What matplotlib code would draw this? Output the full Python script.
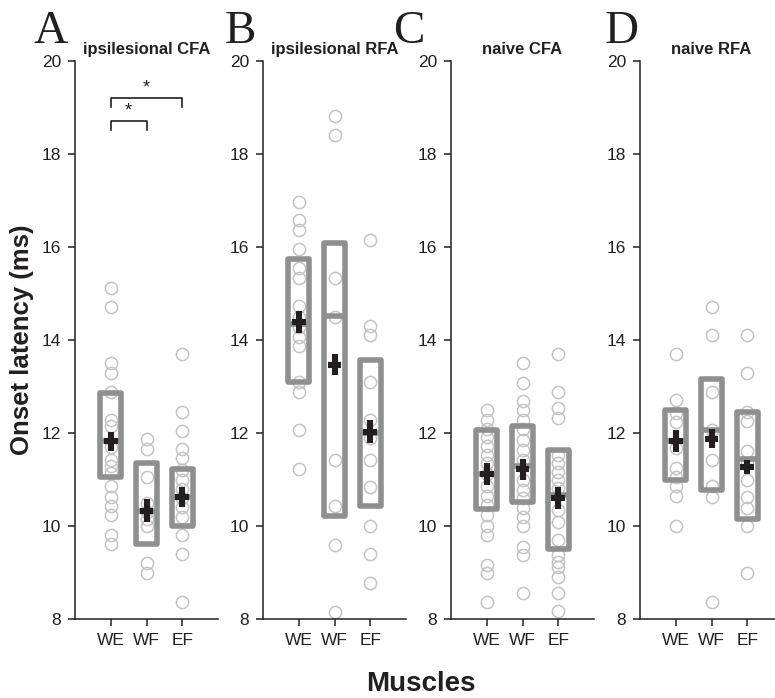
import matplotlib
matplotlib.use("Agg")
import matplotlib.pyplot as plt
from matplotlib.patches import Rectangle

plt.rcParams["font.family"] = ["Liberation Sans", "DejaVu Sans"]

muscles = ["WE", "WF", "EF"]
areas = ["ipsilesional CFA", "ipsilesional RFA", "naive CFA", "naive RFA"]
letters = ["A", "B", "C", "D"]

# onset latencies (ms), one list per area, one sub-list per muscle
cfa_ipsi = [
    [15.12, 14.72, 13.50, 13.30, 12.89, 12.28, 12.14, 11.70, 11.42, 11.28,
     11.13, 10.85, 10.63, 10.42, 10.24, 9.81, 9.61],
    [11.87, 11.66, 11.05, 10.50, 10.30, 10.15, 9.99, 9.20, 8.98],
    [13.69, 12.46, 12.05, 11.65, 11.46, 11.20, 11.00, 10.80, 10.60, 10.40,
     10.20, 9.81, 9.39, 8.37],
]
rfa_ipsi = [
    [16.97, 16.57, 16.37, 15.95, 15.54, 15.34, 14.73, 14.50, 14.29, 14.07,
     13.88, 13.10, 12.88, 12.06, 11.23],
    [18.82, 18.41, 15.34, 14.50, 11.43, 10.42, 9.59, 8.16],
    [16.15, 14.31, 14.11, 13.09, 12.28, 11.89, 11.43, 10.83, 10.01, 9.40, 8.77],
]
cfa_naive = [
    [12.49, 12.29, 12.09, 11.92, 11.71, 11.53, 11.35, 11.12, 10.85, 10.64,
     10.46, 10.24, 9.99, 9.81, 9.16, 8.98, 8.37],
    [13.50, 13.08, 12.69, 12.49, 12.29, 12.09, 11.84, 11.63, 11.42, 10.99,
     10.78, 10.60, 10.38, 10.20, 9.99, 9.55, 9.37, 8.55],
    [13.70, 12.89, 12.53, 12.32, 11.53, 11.35, 11.17, 10.99, 10.81, 10.34,
     10.09, 9.70, 9.38, 9.23, 9.12, 8.91, 8.55, 8.18],
]
rfa_naive = [
    [13.70, 12.71, 12.42, 12.24, 11.67, 11.24, 11.06, 10.85, 10.64, 9.99],
    [14.72, 14.11, 12.89, 12.06, 11.43, 10.85, 10.63, 8.37],
    [14.11, 13.30, 12.45, 12.25, 11.62, 11.35, 11.00, 10.62, 10.38, 10.01, 9.00],
]
latencies = [cfa_ipsi, rfa_ipsi, cfa_naive, rfa_naive]

# box bounds, median line, mean and sem per area x muscle
box_hi = [[12.87, 11.35, 11.23], [15.74, 16.08, 13.58],
          [12.06, 12.16, 11.63], [12.50, 13.17, 12.45]]
box_lo = [[11.06, 9.61, 10.00], [13.09, 10.22, 10.44],
          [10.37, 10.52, 9.50], [10.98, 10.77, 10.15]]
medians = [[11.82, 10.33, 10.62], [14.34, 14.52, 11.99],
           [11.12, 11.28, 10.67], [11.83, 12.06, 11.45]]
means = [[11.82, 10.33, 10.62], [14.38, 13.47, 12.03],
         [11.12, 11.22, 10.60], [11.83, 11.88, 11.27]]
sems = [[0.21, 0.24, 0.22], [0.24, 0.22, 0.24],
        [0.23, 0.23, 0.23], [0.23, 0.20, 0.16]]

# significant pairs in panel A: (left muscle, right muscle, bracket height)
sig_pairs = [(1, 3, 19.21), (1, 2, 18.72)]

ink = "#231f20"
box_gray = "#8e8f91"
dot_gray = "#c4c4c4"

W, H = 775, 698
fig = plt.figure(figsize=(W / 100, H / 100), dpi=100)

spine_x = [75, 263, 451, 640]
letter_x = [33, 225, 393, 605]
ax_w = 143
ax_top, ax_bot = 61, 619

xs = [1, 2, 3]
half = 0.3
lw_box = 4.0
lw_mean = 4.4

for i in range(4):
    ax = fig.add_axes([spine_x[i] / W, 1 - ax_bot / H, ax_w / W, (ax_bot - ax_top) / H])
    for j, x in enumerate(xs):
        vals = latencies[i][j]
        ax.plot([x] * len(vals), vals, linestyle="none", marker="o", ms=8.8,
                mfc="none", mec=dot_gray, mew=1.1, zorder=2)
        ax.add_patch(Rectangle((x - half, box_lo[i][j]), 2 * half,
                               box_hi[i][j] - box_lo[i][j], fill=False,
                               ec=box_gray, lw=lw_box, joinstyle="round", zorder=3))
        ax.plot([x - half, x + half], [medians[i][j]] * 2, color=box_gray,
                lw=lw_box, solid_capstyle="butt", zorder=3)
        m, s = means[i][j], sems[i][j]
        ax.plot([x, x], [m - s, m + s], color=ink, lw=lw_mean,
                solid_capstyle="butt", zorder=4)
        ax.plot([x - 0.19, x + 0.19], [m, m], color=ink, lw=lw_mean,
                solid_capstyle="butt", zorder=4)

    ax.set_xlim(0, 4)
    ax.set_ylim(8, 20)
    ax.set_yticks(range(8, 21, 2))
    ax.set_xticks(xs)
    ax.set_xticklabels(muscles)
    for side in ("top", "right"):
        ax.spines[side].set_visible(False)
    for side in ("left", "bottom"):
        ax.spines[side].set_color(ink)
        ax.spines[side].set_linewidth(1.1)
    ax.tick_params(axis="both", colors=ink, labelsize=12.5, width=1.1, length=5)
    ax.tick_params(axis="y", pad=5)
    ax.tick_params(axis="x", pad=5)
    ax.set_title(areas[i], fontsize=12, fontweight="bold", color=ink, pad=5)
    fig.text(letter_x[i] / W, 1 - 43 / H, letters[i], family="Liberation Serif",
             fontsize=34, color=ink, ha="left", va="baseline")

    if i == 0:
        for a, b, y in sig_pairs:
            ax.plot([a, a, b, b], [y - 0.2, y, y, y - 0.2], color=ink, lw=1.2,
                    zorder=5)
            ax.text((a + b) / 2, y + 0.03, "*", ha="center", va="bottom",
                    fontsize=13, color=ink)

fig.text(22 / W, 1 - 340 / H, "Onset latency (ms)", rotation=90, ha="center",
         va="center", fontsize=18.5, fontweight="bold", color=ink)
fig.text(421 / W, 1 - 684 / H, "Muscles", ha="center", va="center",
         fontsize=20, fontweight="bold", color=ink)

fig.savefig("out.png", dpi=100)
